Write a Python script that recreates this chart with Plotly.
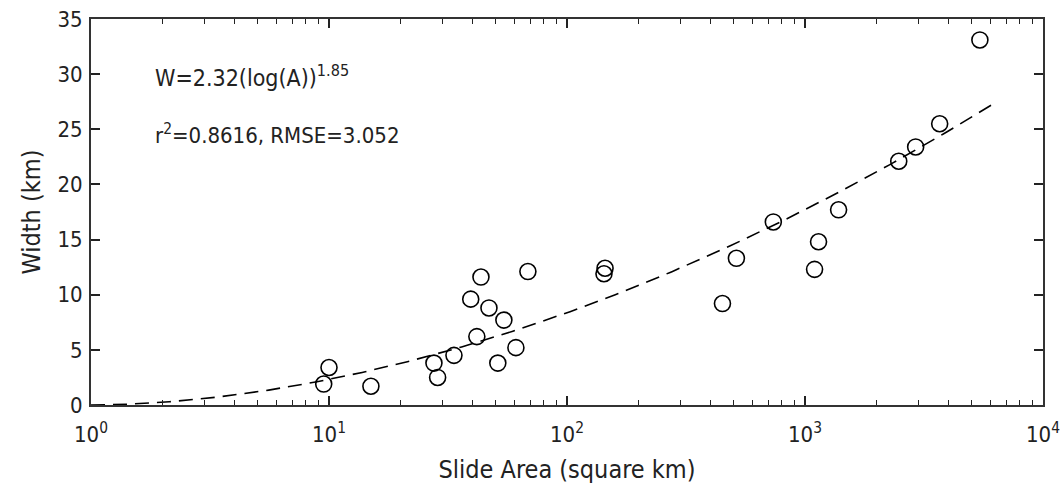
import numpy as np
import plotly.graph_objects as go

# Observed data (slide area km^2, width km)
area = [9.5, 10.0, 15, 27.6, 28.6, 33.5, 39.4, 41.8, 43.5, 47, 51.2, 54.3, 61, 68.5,
        143, 144.5, 450, 515, 736, 1097, 1140, 1384, 2477, 2917, 3680, 5430]
width = [1.9, 3.4, 1.7, 3.8, 2.5, 4.5, 9.6, 6.2, 11.6, 8.8, 3.8, 7.7, 5.2, 12.1,
         11.9, 12.4, 9.2, 13.3, 16.6, 12.3, 14.8, 17.7, 22.1, 23.4, 25.5, 33.1]

# Fit shown on the chart: W = 2.32 (log A)^1.85
fit_a = 2.32
fit_b = 1.85
fit_range = [1.0, 6100.0]

x_tickvals = [1, 10, 100, 1000, 10000]
x_ticktext = ["10<sup>0</sup>", "10<sup>1</sup>", "10<sup>2</sup>", "10<sup>3</sup>", "10<sup>4</sup>"]
y_tickvals = [0, 5, 10, 15, 20, 25, 30, 35]

fx = np.logspace(np.log10(fit_range[0]), np.log10(fit_range[1]), 300)
fy = fit_a * np.log10(fx) ** fit_b

minor_vals = [m * 10 ** d for d in range(0, 4) for m in range(2, 10)]

FONT = "Liberation Sans Narrow, DejaVu Sans Condensed, sans-serif"

fig = go.Figure()
fig.add_trace(go.Scatter(x=fx, y=fy, mode="lines",
                         line=dict(color="black", width=1.6, dash="14px,8px"),
                         hoverinfo="skip"))
fig.add_trace(go.Scatter(x=area, y=width, mode="markers",
                         marker=dict(symbol="circle-open", size=16,
                                     color="black", line=dict(width=1.6))))

fig.update_layout(
    width=1062, height=489,
    margin=dict(l=91, r=19, t=19, b=84),
    plot_bgcolor="white", paper_bgcolor="white",
    showlegend=False,
    font=dict(family=FONT, color="#222", size=22),
)
fig.update_xaxes(type="log", range=[0, 4], tickvals=x_tickvals, ticktext=x_ticktext,
                 ticks="inside", ticklen=9, tickwidth=1.5, tickcolor="#222",
                 showline=True, linecolor="#333", linewidth=2, mirror="allticks",
                 showgrid=False, zeroline=False, ticklabelstandoff=9, automargin=False,
                 minor=dict(tickvals=minor_vals, ticks="inside", ticklen=5,
                            tickwidth=1.3, tickcolor="#222", showgrid=False),
                 tickfont=dict(size=22),
                 title=dict(text="Slide Area (square km)", font=dict(size=25), standoff=14))
fig.update_yaxes(range=[0, 35], tickvals=y_tickvals,
                 ticks="inside", ticklen=9, tickwidth=1.5, tickcolor="#222",
                 showline=True, linecolor="#333", linewidth=2, mirror="allticks",
                 showgrid=False, zeroline=False, ticklabelstandoff=2, automargin=False,
                 tickfont=dict(size=22),
                 title=dict(text="Width (km)", font=dict(size=25), standoff=10))

fig.add_annotation(xref="paper", yref="paper", x=(153 - 91) / 952, y=(405 - 76) / 386,
                   text="W=2.32(log(A))<sup>1.85</sup>", showarrow=False,
                   xanchor="left", yanchor="middle", font=dict(size=23))
fig.add_annotation(xref="paper", yref="paper", x=(153 - 91) / 952, y=(405 - 134) / 386,
                   text="r<sup>2</sup>=0.8616, RMSE=3.052", showarrow=False,
                   xanchor="left", yanchor="middle", font=dict(size=22))

fig.write_html("out.html")
